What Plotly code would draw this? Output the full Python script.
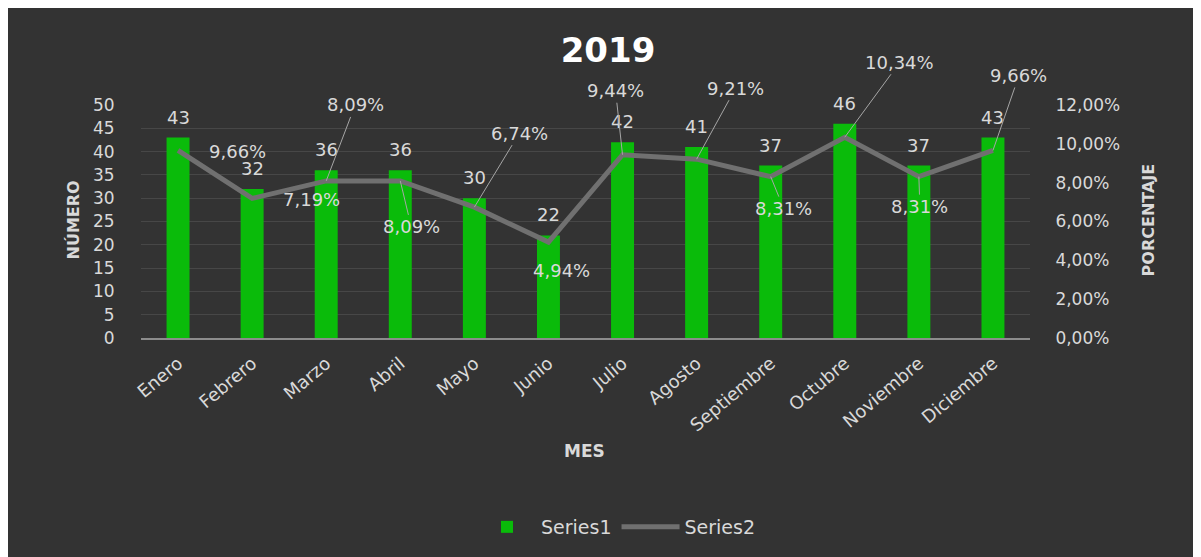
"""Gráfico combinado 2019: número por mes (barras) y porcentaje (línea)"""

import plotly.graph_objects as go

meses = ["Enero", "Febrero", "Marzo", "Abril", "Mayo", "Junio", "Julio",
         "Agosto", "Septiembre", "Octubre", "Noviembre", "Diciembre"]
numero = [43, 32, 36, 36, 30, 22, 42, 41, 37, 46, 37, 43]
porcentaje = [9.66, 7.19, 8.09, 8.09, 6.74, 4.94, 9.44, 9.21, 8.31, 10.34, 8.31, 9.66]
ticks_pct = [0, 2, 4, 6, 8, 10, 12]

# desplazamiento (px) de cada etiqueta de porcentaje y si lleva línea guía
offsets = [(59, 1), (59, 1), (29, -76), (11, 46), (45, -74), (13, 28),
           (-7, -64), (39, -71), (13, 32), (55, -75), (1, 30), (26, -75)]
guia = [False, False, True, True, True, False, True, True, True, True, True, True]

BG = "#333333"
TXT = "#d9d9d9"
VERDE = "#0abb0a"
GRIS = "#707070"
FONT = "DejaVu Sans"

W, H = 1193, 549  # la página añade 8 px de margen


def pct(v):
    return f"{v:.2f}%".replace(".", ",")


fig = go.Figure()
fig.add_trace(go.Bar(
    x=meses, y=numero, name="Series1",
    marker=dict(color=VERDE, line=dict(width=0)),
    width=0.31,
))
fig.add_trace(go.Scatter(
    x=meses, y=porcentaje, name="Series2", yaxis="y2",
    mode="lines", line=dict(color=GRIS, width=5),
))

annotations = []
for m, v in zip(meses, numero):
    annotations.append(dict(
        x=m, y=v, xref="x", yref="y", text=str(v), showarrow=False,
        yanchor="bottom", yshift=8, font=dict(family=FONT, size=18, color=TXT),
    ))
for m, p, (dx, dy), g in zip(meses, porcentaje, offsets, guia):
    annotations.append(dict(
        x=m, y=p, xref="x", yref="y2", text=pct(p),
        showarrow=True, ax=dx, ay=dy, arrowhead=0, arrowwidth=1, standoff=0,
        arrowcolor="#a6a6a6" if g else "rgba(0,0,0,0)",
        font=dict(family=FONT, size=18, color=TXT),
    ))

# títulos de ejes
annotations += [
    dict(text="<b>NÚMERO</b>", xref="paper", yref="paper", x=-0.089, y=0.506,
         textangle=-90, showarrow=False, font=dict(family=FONT, size=16, color=TXT)),
    dict(text="<b>PORCENTAJE</b>", xref="paper", yref="paper", x=1.146, y=0.506,
         textangle=-90, showarrow=False, font=dict(family=FONT, size=16, color=TXT)),
    dict(text="<b>MES</b>", xref="paper", yref="paper", x=0.499, y=-0.536,
         showarrow=False, font=dict(family=FONT, size=17, color=TXT)),
]

fig.update_layout(
    width=W, height=H,
    margin=dict(l=133, r=171, t=97, b=219),
    paper_bgcolor=BG, plot_bgcolor=BG,
    separators=",.",
    title=dict(text="<b>2019</b>", x=(608 - 8) / W, xanchor="center", xref="container",
               y=1 - (50 - 8) / H, yanchor="middle", yref="container",
               font=dict(family=FONT, size=34, color="white")),
    font=dict(family=FONT, size=17, color=TXT),
    xaxis=dict(
        range=[-0.5, len(meses) - 0.5],
        tickangle=-40, ticks="outside", ticklen=6, tickcolor="rgba(0,0,0,0)",
        showgrid=False, showline=True, linecolor="#8c8c8c", linewidth=2,
        tickfont=dict(size=18, color=TXT),
    ),
    yaxis=dict(
        range=[0, 50], dtick=5, gridcolor="#474747", gridwidth=1,
        zeroline=False, ticks="outside", ticklen=22, tickcolor="rgba(0,0,0,0)",
        tickfont=dict(size=17, color=TXT),
    ),
    yaxis2=dict(
        overlaying="y", side="right", range=[0, 12], tickmode="array",
        tickvals=ticks_pct, ticktext=[pct(t) for t in ticks_pct],
        showgrid=False, zeroline=False,
        ticks="outside", ticklen=21, tickcolor="rgba(0,0,0,0)",
        tickfont=dict(size=17, color=TXT),
    ),
    legend=dict(orientation="h", xref="container", x=(617 - 8) / W, xanchor="center",
                yref="container", y=1 - (527 - 8) / H, yanchor="middle",
                itemwidth=58, font=dict(size=19, color=TXT), bgcolor="rgba(0,0,0,0)"),
    annotations=annotations,
)

fig.write_html("out.html")
